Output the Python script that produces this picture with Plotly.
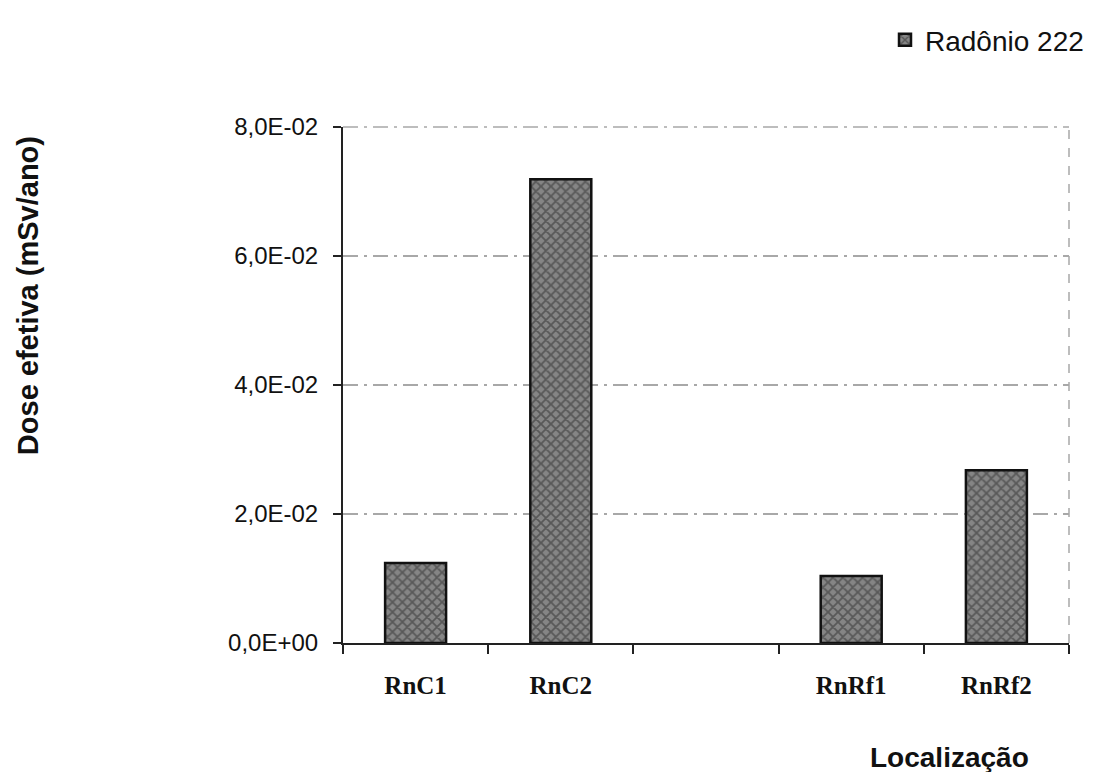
import plotly.graph_objects as go

categories = ["RnC1", "RnC2", " ", "RnRf1", "RnRf2"]
dose_values = [0.0124, 0.0719, None, 0.0104, 0.0268]
series_name = "Radônio 222"
y_tickvals = [0, 0.02, 0.04, 0.06, 0.08]
y_ticktext = ["0,0E+00", "2,0E-02", "4,0E-02", "6,0E-02", "8,0E-02"]

fig = go.Figure()
fig.add_trace(go.Bar(
    x=categories, y=dose_values, name=series_name,
    width=0.42,
    marker=dict(
        color="#6e6e6e",
        line=dict(color="#111111", width=2.5),
        pattern=dict(shape="x", fgcolor="#2c2c2c", bgcolor="#858585", size=7, solidity=0.45),
    ),
    showlegend=True,
))

fig.update_layout(
    width=1100, height=772,
    margin=dict(l=343, r=31, t=127, b=129, autoexpand=False),
    paper_bgcolor="white", plot_bgcolor="white",
    showlegend=True,
    legend=dict(xref="container", yref="container", x=0.99, xanchor="right",
                y=0.948, yanchor="middle",
                font=dict(family="Arial, Liberation Sans", size=28, color="#111"),
                bgcolor="rgba(0,0,0,0)", itemwidth=30, tracegroupgap=0),
    bargap=0.58,
)
fig.update_xaxes(
    type="category", categoryorder="array", categoryarray=categories,
    showline=True, linecolor="#222", linewidth=2,
    ticks="outside", tickson="boundaries", ticklen=9, tickcolor="#222", tickwidth=2,
    tickfont=dict(family="Times New Roman, Liberation Serif", size=25, color="#111", weight="bold"),
    ticklabelstandoff=19,
    showgrid=False, zeroline=False,
)
fig.update_yaxes(
    range=[0, 0.08], tickvals=y_tickvals, ticktext=y_ticktext,
    showline=True, linecolor="#222", linewidth=2,
    ticks="outside", ticklen=8, tickcolor="#222", tickwidth=2,
    tickfont=dict(family="Arial, Liberation Sans", size=24, color="#111"),
    ticklabelstandoff=10,
    showgrid=True, gridcolor="#a8a8a8", griddash="longdashdot", gridwidth=1.5,
    zeroline=False,
)
# top and right border of plot area
fig.add_shape(type="line", xref="paper", yref="paper", x0=1, x1=1, y0=0, y1=1,
              line=dict(color="#a8a8a8", width=1.5, dash="dash"))
fig.add_shape(type="line", xref="paper", yref="paper", x0=0, x1=1, y0=1, y1=1,
              line=dict(color="#a8a8a8", width=1.5, dash="longdashdot"))
fig.add_annotation(text="<b>Dose efetiva (mSv/ano)</b>", textangle=-90,
                   xref="paper", yref="paper", x=-0.434, y=0.674, showarrow=False,
                   xanchor="center", yanchor="middle",
                   font=dict(family="Arial, Liberation Sans", size=29, color="#111"))
fig.add_annotation(text="<b>Localização</b>",
                   xref="paper", yref="paper", x=0.836, y=-0.221, showarrow=False,
                   xanchor="center", yanchor="middle",
                   font=dict(family="Arial, Liberation Sans", size=28, color="#111"))

fig.write_html("out.html")
